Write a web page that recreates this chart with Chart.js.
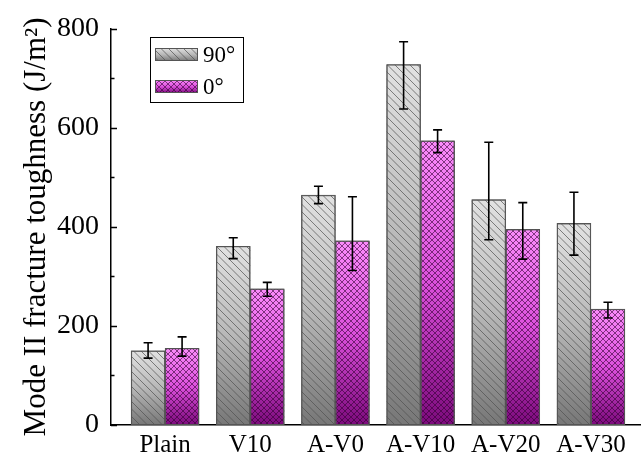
<!DOCTYPE html>
<html>
<head>
<meta charset="utf-8">
<script src="https://cdn.jsdelivr.net/npm/chart.js@4"></script>
<style>
  html, body { margin: 0; padding: 0; background: #fff; }
  #wrap { width: 643px; height: 462px; }
</style>
</head>
<body>
<div id="wrap"><canvas id="chart"></canvas></div>
<script>
// data
const categories = ["Plain", "V10", "A-V0", "A-V10", "A-V20", "A-V30"];
const seriesNames = ["90\u00b0", "0\u00b0"];

const values90 = [150, 361, 464, 728, 455, 407];
const low90 = [135, 336, 447, 638, 374, 343];
const high90 = [166, 378, 482, 774, 571, 470];

const values0 = [155, 275, 372, 574, 395, 234];
const low0 = [139, 260, 312, 550, 335, 216];
const high0 = [178, 288, 461, 596, 449, 248];

const yTicks = [0, 200, 400, 600, 800];
const yMinorTicks = [100, 300, 500, 700];

const serif = "'Liberation Serif', 'Times New Roman', serif";

const styles = [
  { top: "#e2e2e2", mid: "#b8b8b8", bottom: "#777777", hatch: "down", line: "rgba(80,80,80,0.7)" },
  { top: "#fb8cfb", mid: "#dc50dc", bottom: "#7c0a7c", hatch: "cross", line: "rgba(50,0,50,0.6)" }
];

function makeGradient(ctx, top, bottom, s) {
  const g = ctx.createLinearGradient(0, top, 0, bottom);
  g.addColorStop(0, styles[s].top);
  g.addColorStop(0.5, styles[s].mid);
  g.addColorStop(1, styles[s].bottom);
  return g;
}

function barFill(c, s) {
  const chart = c.chart;
  if (!chart.chartArea || c.type !== "data") return styles[s].mid;
  const y = chart.scales.y;
  return makeGradient(chart.ctx, y.getPixelForValue(c.raw.y), y.getPixelForValue(0), s);
}

function hatch(ctx, x0, y0, x1, y1, s) {
  const kind = styles[s].hatch;
  ctx.save();
  ctx.beginPath();
  ctx.rect(x0, y0, x1 - x0, y1 - y0);
  ctx.clip();
  ctx.strokeStyle = styles[s].line;
  ctx.lineWidth = 1;
  ctx.beginPath();
  const sp = kind === "cross" ? 6 : 7.5;
  // "\" lines : x - y = k
  for (let k = Math.floor((x0 - y1) / sp) * sp; k <= x1 - y0; k += sp) {
    ctx.moveTo(k + y0, y0);
    ctx.lineTo(k + y1, y1);
  }
  if (kind === "cross") {
    // "/" lines : x + y = k
    for (let k = Math.floor((x0 + y0) / sp) * sp; k <= x1 + y1; k += sp) {
      ctx.moveTo(k - y0, y0);
      ctx.lineTo(k - y1, y1);
    }
  }
  ctx.stroke();
  ctx.restore();
}

const decor = {
  id: "decor",
  afterDatasetsDraw(chart) {
    const ctx = chart.ctx;
    const y = chart.scales.y;
    const bounds = [[low90, high90], [low0, high0]];

    bounds.forEach((b, s) => {
      chart.getDatasetMeta(s).data.forEach(bar => {
        const p = bar.getProps(["x", "y", "base", "width"], true);
        const x0 = p.x - p.width / 2;
        hatch(ctx, x0, p.y, x0 + p.width, p.base, s);
        ctx.strokeStyle = "#555";
        ctx.lineWidth = 1;
        ctx.strokeRect(x0 + 0.5, p.y + 0.5, p.width - 1, p.base - p.y - 1);
      });
    });

    // error bars
    ctx.save();
    ctx.strokeStyle = "#000";
    ctx.lineWidth = 1.6;
    bounds.forEach((b, s) => {
      chart.getDatasetMeta(s).data.forEach((bar, i) => {
        const x = bar.x;
        const yl = y.getPixelForValue(b[0][i]);
        const yh = y.getPixelForValue(b[1][i]);
        ctx.beginPath();
        ctx.moveTo(x, yl); ctx.lineTo(x, yh);
        ctx.moveTo(x - 4.5, yl); ctx.lineTo(x + 4.5, yl);
        ctx.moveTo(x - 4.5, yh); ctx.lineTo(x + 4.5, yh);
        ctx.stroke();
      });
    });
    ctx.restore();
  },
  afterDraw(chart) {
    const ctx = chart.ctx;
    const y = chart.scales.y;
    const left = chart.chartArea.left;

    // inward ticks on the y axis
    ctx.save();
    ctx.strokeStyle = "#000";
    ctx.lineWidth = 1.5;
    ctx.beginPath();
    yTicks.forEach(v => {
      const py = Math.round(y.getPixelForValue(v)) + 0.5;
      ctx.moveTo(left, py); ctx.lineTo(left + 6, py);
    });
    yMinorTicks.forEach(v => {
      const py = Math.round(y.getPixelForValue(v)) + 0.5;
      ctx.moveTo(left, py); ctx.lineTo(left + 3.5, py);
    });
    ctx.stroke();

    // legend box inside the plot
    const bx = 150, by = 37, bw = 93, bh = 65;
    ctx.lineWidth = 1;
    ctx.strokeStyle = "#000";
    ctx.strokeRect(bx + 0.5, by + 0.5, bw, bh);
    const rows = [48, 80];
    ctx.font = "23px " + serif;
    ctx.textBaseline = "middle";
    seriesNames.forEach((name, s) => {
      const sx = 155, sy = rows[s], sw = 43, sh = 13;
      ctx.fillStyle = makeGradient(ctx, sy, sy + sh, s);
      ctx.fillRect(sx, sy, sw, sh);
      hatch(ctx, sx, sy, sx + sw, sy + sh, s);
      ctx.strokeStyle = "#555";
      ctx.strokeRect(sx + 0.5, sy + 0.5, sw - 1, sh - 1);
      ctx.fillStyle = "#000";
      ctx.fillText(name, 203, sy + sh / 2 + 1);
    });
    ctx.restore();
  }
};

new Chart(document.getElementById("chart"), {
  type: "bar",
  data: {
    datasets: [
      {
        label: seriesNames[0],
        data: values90.map((v, i) => ({ x: i, y: v })),
        backgroundColor: c => barFill(c, 0),
        borderColor: "#555",
        borderWidth: 1,
        barThickness: 34
      },
      {
        label: seriesNames[1],
        data: values0.map((v, i) => ({ x: i, y: v })),
        backgroundColor: c => barFill(c, 1),
        borderColor: "#555",
        borderWidth: 1,
        barThickness: 34
      }
    ]
  },
  options: {
    responsive: true,
    maintainAspectRatio: false,
    animation: false,
    layout: { padding: { left: 0, top: 28, right: 3, bottom: 0 } },
    plugins: {
      legend: { display: false },
      tooltip: { enabled: false }
    },
    scales: {
      x: {
        type: "linear",
        offset: false,
        min: -0.635,
        max: 5.576,
        grid: { display: false, drawTicks: false, offset: false },
        border: { color: "#000", width: 1.5 },
        afterBuildTicks: s => { s.ticks = categories.map((_, i) => ({ value: i })); },
        afterFit: s => { s.height = 37; },
        ticks: {
          callback: v => categories[v],
          color: "#000",
          font: { family: serif, size: 25 },
          padding: 5,
          autoSkip: false,
          maxRotation: 0
        }
      },
      y: {
        min: 0,
        max: 800,
        grid: { display: false, drawTicks: false },
        border: { color: "#000", width: 1.5 },
        afterBuildTicks: s => { s.ticks = yTicks.map(v => ({ value: v })); },
        afterFit: s => { s.width = 111; },
        ticks: {
          color: "#000",
          font: { family: serif, size: 28 },
          padding: 12
        },
        title: {
          display: true,
          text: "Mode II fracture toughness (J/m\u00b2)",
          color: "#000",
          font: { family: serif, size: 31 },
          padding: { top: 18, bottom: 0 }
        }
      }
    }
  },
  plugins: [decor]
});
</script>
</body>
</html>
